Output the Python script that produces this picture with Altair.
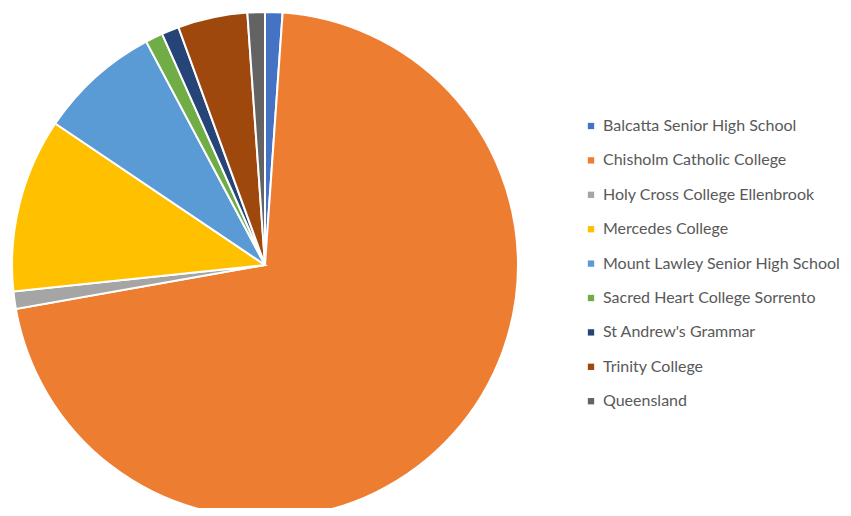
import altair as alt
import pandas as pd

schools = [
    "Balcatta Senior High School",
    "Chisholm Catholic College",
    "Holy Cross College Ellenbrook",
    "Mercedes College",
    "Mount Lawley Senior High School",
    "Sacred Heart College Sorrento",
    "St Andrew's Grammar",
    "Trinity College",
    "Queensland",
]
counts = [1, 64, 1, 10, 7, 1, 1, 4, 1]
colors = ["#4472C4", "#ED7D31", "#A5A5A5", "#FFC000", "#5B9BD5",
          "#70AD47", "#264478", "#9E480E", "#636363"]

df = pd.DataFrame({"school": schools, "count": counts, "idx": list(range(len(schools)))})

chart = alt.Chart(df).mark_arc(
    radius=253, stroke="white", strokeWidth=2
).encode(
    x=alt.value(257),
    y=alt.value(257),
    theta=alt.Theta("count:Q", stack=True),
    order=alt.Order("idx:Q", sort="ascending"),
    color=alt.Color(
        "school:N",
        scale=alt.Scale(domain=schools, range=colors),
        sort=schools,
        legend=alt.Legend(
            title=None,
            orient="none",
            legendX=575,
            legendY=110,
            symbolType="square",
            symbolSize=40,
            symbolStrokeWidth=0,
            labelFont="Lato",
            labelFontSize=16,
            labelColor="#595959",
            labelOffset=4,
            rowPadding=18.4,
            padding=0,
            labelLimit=400,
        ),
    ),
).properties(
    width=835, height=500, padding=0, autosize=alt.AutoSizeParams(type="none")
).configure_view(stroke=None)

chart.save("out.html", embed_options={"renderer": "svg", "actions": False})
